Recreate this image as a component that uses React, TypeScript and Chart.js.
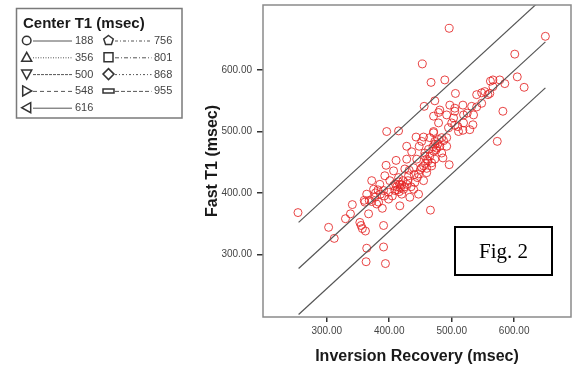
import React, { useEffect, useRef } from 'react';
import { Chart, registerables } from 'chart.js';

Chart.register(...registerables);

// ---- data ----
const inversionRecovery = [
  254, 303, 312, 330, 338, 341, 353, 355, 357, 362, 367, 360, 364, 363, 389, 391, 391, 394, 396, 415,
  395, 393, 466, 453, 496, 467, 489, 456, 473, 506, 443, 452, 496, 573, 582, 601, 650, 605, 616, 562,
  566, 577, 585, 553, 561, 566, 540, 548, 558, 532, 548, 518, 505, 497, 481, 492, 503, 519, 535, 534,
  519, 500, 479, 471, 529, 518, 511, 495, 471, 465, 479, 492, 473, 481, 492, 486, 484, 471, 457, 460,
  473, 468, 455, 505, 510, 540, 525, 479, 505, 455, 471, 428, 436, 448, 463, 473, 411, 428, 444, 457,
  407, 425, 439, 452, 468, 372, 385, 401, 415, 431, 447, 460, 375, 391, 407, 417, 428, 441, 455, 364,
  377, 399, 409, 423, 439, 361, 383, 399, 433, 447, 417, 412, 415, 418, 420, 410, 422, 413, 416, 420,
  425, 430, 435, 445, 450, 458, 462, 465, 470, 475, 478, 476, 484, 487, 460, 440, 432, 368, 372, 378,
  382, 386, 380, 392, 405,
];
const fastT1 = [
  368, 344, 326, 358, 366, 381, 352, 347, 342, 338, 366, 388, 310, 288, 375, 347, 312, 285, 500, 501,
  445, 428, 372, 610, 668, 580, 584, 541, 550, 562, 491, 484, 446, 484, 533, 626, 655, 589, 572, 582,
  584, 584, 578, 565, 562, 573, 560, 563, 560, 541, 546, 543, 538, 543, 535, 527, 522, 527, 527, 511,
  514, 514, 514, 525, 503, 502, 500, 506, 500, 490, 487, 490, 479, 476, 476, 457, 465, 468, 465, 455,
  455, 444, 444, 510, 508, 540, 530, 531, 533, 491, 498, 476, 467, 476, 471, 484, 453, 455, 455, 460,
  436, 439, 441, 441, 449, 420, 414, 420, 425, 428, 431, 433, 406, 404, 412, 414, 414, 417, 420, 398,
  393, 401, 404, 406, 406, 385, 385, 390, 393, 398, 379, 410, 418, 408, 413, 415, 420, 405, 402, 398,
  410, 420, 410, 425, 438, 448, 452, 460, 475, 470, 480, 473, 490, 485, 440, 430, 437, 388, 386, 400,
  405, 398, 382, 395, 395,
];

const lineX = [255, 650];
const fitLineY = [277, 646];
const upperLimitY = [352, 721];
const lowerLimitY = [202, 571];

const xTickValues = [300, 400, 500, 600];
const yTickValues = [300, 400, 500, 600];

const xTitle = 'Inversion Recovery (msec)';
const yTitle = 'Fast T1 (msec)';
const legendTitle = 'Center T1 (msec)';
const legendLabels = ['188', '356', '500', '548', '616', '756', '801', '868', '955'];
const figLabel = 'Fig. 2';

// ---- styles ----
const legendSymbols = ['circle', 'triUp', 'triDown', 'triRight', 'triLeft', 'pentagon', 'square', 'diamond', 'bar'];
const legendDashes: number[][] = [[], [1, 1.5], [3, 1], [4, 3], [], [3, 2, 1, 2], [4, 2, 1, 2], [2, 2, 1, 2], [4, 2]];
const FONT = '"Liberation Sans", Arial, sans-serif';

function drawSymbol(ctx: CanvasRenderingContext2D, kind: string, cx: number, cy: number) {
  ctx.beginPath();
  switch (kind) {
    case 'circle':
      ctx.arc(cx, cy, 4.3, 0, Math.PI * 2);
      break;
    case 'triUp':
      ctx.moveTo(cx, cy - 5); ctx.lineTo(cx + 5, cy + 4); ctx.lineTo(cx - 5, cy + 4); ctx.closePath();
      break;
    case 'triDown':
      ctx.moveTo(cx - 5, cy - 4); ctx.lineTo(cx + 5, cy - 4); ctx.lineTo(cx, cy + 5); ctx.closePath();
      break;
    case 'triRight':
      ctx.moveTo(cx - 4, cy - 5); ctx.lineTo(cx + 5, cy); ctx.lineTo(cx - 4, cy + 5); ctx.closePath();
      break;
    case 'triLeft':
      ctx.moveTo(cx + 4, cy - 5); ctx.lineTo(cx - 5, cy); ctx.lineTo(cx + 4, cy + 5); ctx.closePath();
      break;
    case 'pentagon':
      for (let i = 0; i < 5; i++) {
        const ang = -Math.PI / 2 + (i * 2 * Math.PI) / 5;
        const px = cx + 5 * Math.cos(ang);
        const py = cy + 5 * Math.sin(ang);
        if (i === 0) ctx.moveTo(px, py); else ctx.lineTo(px, py);
      }
      ctx.closePath();
      break;
    case 'square':
      ctx.rect(cx - 4.5, cy - 4.5, 9, 9);
      break;
    case 'diamond':
      ctx.moveTo(cx, cy - 5.5); ctx.lineTo(cx + 5.5, cy); ctx.lineTo(cx, cy + 5.5); ctx.lineTo(cx - 5.5, cy); ctx.closePath();
      break;
    case 'bar':
      ctx.rect(cx - 5.5, cy - 2, 11, 4);
      break;
  }
  ctx.stroke();
}

const overlayPlugin = {
  id: 'overlay',
  afterDraw(chart: any) {
    const ctx: CanvasRenderingContext2D = chart.ctx;
    const a = chart.chartArea;
    ctx.save();
    // plot frame
    ctx.setLineDash([]);
    ctx.strokeStyle = '#8a8a8a';
    ctx.lineWidth = 1.5;
    ctx.strokeRect(a.left, a.top, a.right - a.left, a.bottom - a.top);

    // Fig. 2 box
    ctx.fillStyle = '#ffffff';
    ctx.fillRect(455, 227, 97, 48);
    ctx.strokeStyle = '#000000';
    ctx.lineWidth = 2;
    ctx.strokeRect(455, 227, 97, 48);
    ctx.fillStyle = '#000000';
    ctx.font = '21px "Liberation Serif", "Times New Roman", serif';
    ctx.textAlign = 'center';
    ctx.textBaseline = 'middle';
    ctx.fillText(figLabel, 503.5, 252);

    // legend box
    ctx.fillStyle = '#ffffff';
    ctx.fillRect(16.5, 8.5, 165.5, 109.5);
    ctx.strokeStyle = '#7a7a7a';
    ctx.lineWidth = 1.5;
    ctx.strokeRect(16.5, 8.5, 165.5, 109.5);
    ctx.fillStyle = '#1a1a1a';
    ctx.font = `bold 15px ${FONT}`;
    ctx.textAlign = 'left';
    ctx.textBaseline = 'middle';
    ctx.fillText(legendTitle, 23, 24);

    legendLabels.forEach((label, i) => {
      const col = i < 5 ? 0 : 1;
      const row = i < 5 ? i : i - 5;
      const cy = 40.5 + row * 16.8;
      const sx = col === 0 ? 26.7 : 108.5;
      const l0 = col === 0 ? 33 : 115;
      const l1 = col === 0 ? 72 : 151.5;
      const tx = col === 0 ? 75 : 154;
      ctx.strokeStyle = '#333333';
      ctx.lineWidth = 1.5;
      ctx.setLineDash([]);
      drawSymbol(ctx, legendSymbols[i], sx, cy);
      ctx.strokeStyle = '#555555';
      ctx.lineWidth = 1;
      ctx.setLineDash(legendDashes[i]);
      ctx.beginPath();
      ctx.moveTo(l0, cy + 0.5);
      ctx.lineTo(l1, cy + 0.5);
      ctx.stroke();
      ctx.setLineDash([]);
      ctx.fillStyle = '#444444';
      ctx.font = `11px ${FONT}`;
      ctx.fillText(label, tx, cy + 0.5);
    });
    ctx.restore();
  },
};

export default function App() {
  const canvasRef = useRef<HTMLCanvasElement | null>(null);

  useEffect(() => {
    const canvas = canvasRef.current;
    if (!canvas) return;
    const points = inversionRecovery.map((x, i) => ({ x, y: fastT1[i] }));
    const mkLine = (ys: number[]) => lineX.map((x, i) => ({ x, y: ys[i] }));
    const lineStyle = {
      type: 'line' as const,
      showLine: true,
      borderColor: '#555555',
      borderWidth: 1.2,
      pointRadius: 0,
      fill: false,
    };
    const chart = new Chart(canvas, {
      type: 'scatter',
      data: {
        datasets: [
          { ...lineStyle, label: 'upper', data: mkLine(upperLimitY) },
          { ...lineStyle, label: 'fit', data: mkLine(fitLineY) },
          { ...lineStyle, label: 'lower', data: mkLine(lowerLimitY) },
          {
            label: 'Fast T1',
            data: points,
            pointStyle: 'circle',
            pointRadius: 4,
            borderWidth: 1,
            borderColor: 'rgba(228,35,35,0.85)',
            backgroundColor: 'rgba(0,0,0,0)',
          } as any,
        ],
      },
      options: {
        animation: false,
        responsive: false,
        maintainAspectRatio: false,
        layout: { padding: { left: 200, top: 3, right: 6, bottom: 0 } },
        plugins: {
          legend: { display: false },
          tooltip: { enabled: false },
        },
        scales: {
          x: {
            type: 'linear',
            min: 198,
            max: 691,
            afterFit: (s: any) => { s.height = 49; s.paddingLeft = 0; s.paddingRight = 0; },
            afterBuildTicks: (s: any) => { s.ticks = xTickValues.map((v) => ({ value: v })); },
            border: { display: false },
            grid: { display: true, drawOnChartArea: false, drawTicks: true, tickLength: 5, color: '#333', lineWidth: 1.5 },
            ticks: {
              padding: 3,
              color: '#444',
              font: { family: FONT, size: 10 },
              callback: (v: any) => Number(v).toFixed(2),
            },
            title: {
              display: true,
              text: xTitle,
              color: '#1a1a1a',
              font: { family: FONT, size: 16, weight: 'bold' },
              padding: { top: 0, bottom: 0 },
            },
          },
          y: {
            type: 'linear',
            min: 198,
            max: 706,
            afterFit: (s: any) => { s.width = 63; s.paddingTop = 0; s.paddingBottom = 0; },
            afterBuildTicks: (s: any) => { s.ticks = yTickValues.map((v) => ({ value: v })); },
            border: { display: false },
            grid: { display: true, drawOnChartArea: false, drawTicks: true, tickLength: 6, color: '#333', lineWidth: 1.5 },
            ticks: {
              padding: 5,
              color: '#444',
              font: { family: FONT, size: 10 },
              callback: (v: any) => Number(v).toFixed(2),
            },
            title: {
              display: true,
              text: yTitle,
              color: '#1a1a1a',
              font: { family: FONT, size: 16, weight: 'bold' },
              padding: { top: 3, bottom: 0 },
            },
          },
        },
      },
      plugins: [overlayPlugin],
    } as any);
    return () => chart.destroy();
  }, []);

  return (
    <div style={{ position: 'absolute', left: 0, top: 0, width: 577, height: 366, background: '#ffffff' }}>
      <canvas ref={canvasRef} width={577} height={366} style={{ width: 577, height: 366, display: 'block' }} />
    </div>
  );
}
